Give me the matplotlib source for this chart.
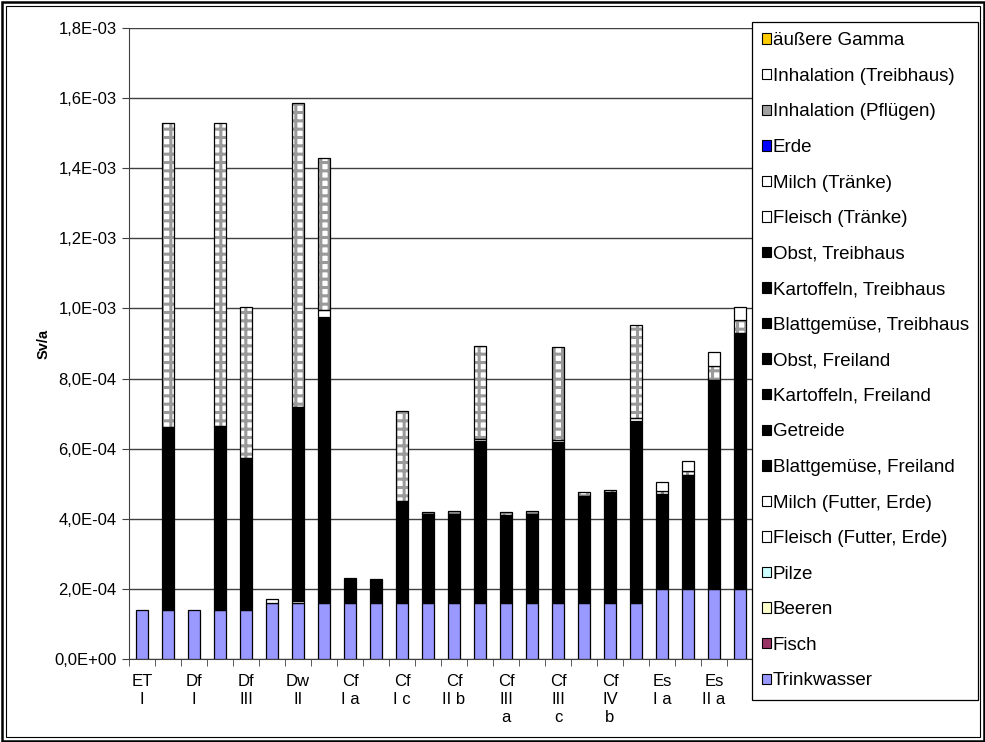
import matplotlib
matplotlib.use("Agg")
import matplotlib.pyplot as plt
from matplotlib.patches import Patch, Rectangle
from matplotlib.ticker import FuncFormatter, FixedLocator, MultipleLocator
import numpy as np

plt.rcParams['font.family'] = ['Liberation Sans', 'DejaVu Sans']
plt.rcParams['hatch.linewidth'] = 2.2

# x-Achse: nur jede zweite Kategorie beschriftet
labels = ["ET\nI", "Df\nI", "Df\nIII", "Dw\nII", "Cf\nI a", "Cf\nI c",
          "Cf\nII b", "Cf\nIII\na", "Cf\nIII\nc", "Cf\nIV\nb", "Es\nI a", "Es\nII a"]
n_bars = 24

# Werte in 1e-4 Sv/a (von unten nach oben gestapelt)
trinkwasser = [1.4, 1.4, 1.4, 1.4, 1.4, 1.6, 1.6, 1.6, 1.6, 1.6, 1.6, 1.6,
               1.6, 1.6, 1.6, 1.6, 1.6, 1.6, 1.6, 1.6, 2.0, 2.0, 2.0, 2.0]
fisch = [0] * 24
beeren = [0] * 24
pilze = [0] * 24
fleisch_futter = [0] * 24
milch_futter = [0, 0, 0, 0, 0, 0, 0.05, 0, 0, 0, 0, 0,
                0, 0, 0, 0, 0, 0, 0, 0, 0, 0, 0, 0]
blatt_frei = [0, 5.23, 0, 5.25, 4.33, 0, 5.55, 8.15, 0.72, 0.67, 2.92, 2.53,
              2.55, 4.62, 2.5, 2.54, 4.6, 3.06, 3.16, 5.2, 2.7, 3.25, 5.93, 7.27]
getreide = [0] * 24
kartoffeln_frei = [0] * 24
obst_frei = [0] * 24
blatt_treib = [0] * 24
kartoffeln_treib = [0] * 24
obst_treib = [0] * 24
fleisch_traenke = [0, 0, 0, 0, 0, 0.12, 0, 0.2, 0, 0, 0, 0,
                   0, 0.06, 0, 0, 0.06, 0, 0, 0.07, 0, 0, 0, 0]
milch_traenke = [0] * 24
erde = [0, 0, 0, 0, 0, 0, 0, 0, 0, 0, 0, 0,
        0, 0, 0, 0, 0, 0, 0, 0, 0, 0, 0.04, 0.04]
inh_pfluegen = [0, 8.67, 0, 8.65, 4.31, 0, 8.67, 4.35, 0, 0, 2.55, 0.06,
                0.08, 2.64, 0.08, 0.08, 2.64, 0.1, 0.06, 2.65, 0.1, 0.12, 0.4, 0.35]
inh_treib = [0, 0, 0, 0, 0, 0, 0, 0, 0, 0, 0, 0,
             0, 0, 0, 0, 0, 0, 0, 0, 0.25, 0.28, 0.38, 0.39]
gamma = [0] * 24

series = [
    ("Trinkwasser", trinkwasser, "#9999FF"),
    ("Fisch", fisch, "#993366"),
    ("Beeren", beeren, "#FFFFCC"),
    ("Pilze", pilze, "#CCFFFF"),
    ("Fleisch (Futter, Erde)", fleisch_futter, "white"),
    ("Milch (Futter, Erde)", milch_futter, "white"),
    ("Blattgemüse, Freiland", blatt_frei, "black"),
    ("Getreide", getreide, "black"),
    ("Kartoffeln, Freiland", kartoffeln_frei, "black"),
    ("Obst, Freiland", obst_frei, "black"),
    ("Blattgemüse, Treibhaus", blatt_treib, "black"),
    ("Kartoffeln, Treibhaus", kartoffeln_treib, "black"),
    ("Obst, Treibhaus", obst_treib, "black"),
    ("Fleisch (Tränke)", fleisch_traenke, "white"),
    ("Milch (Tränke)", milch_traenke, "white"),
    ("Erde", erde, "#0000FF"),
    ("Inhalation (Pflügen)", inh_pfluegen, "pattern"),
    ("Inhalation (Treibhaus)", inh_treib, "white"),
    ("äußere Gamma", gamma, "#FFCC00"),
]

fig = plt.figure(figsize=(9.85, 7.42), dpi=100)
ax = fig.add_axes([129 / 985, 1 - 659 / 742, 624 / 985, 631 / 742])

x = np.arange(n_bars)
width = 0.43
bottom = np.zeros(n_bars)
handles = []
for name, vals, col in series:
    v = np.array(vals) * 1e-4
    m = v > 0  # leere Segmente nicht zeichnen
    if col == "pattern":
        ax.bar(x[m], v[m], width, bottom=bottom[m], color="white", edgecolor="#9A9A9A",
               hatch="++", linewidth=0, zorder=2)
        ax.bar(x[m], v[m], width, bottom=bottom[m], fill=False, edgecolor="black",
               linewidth=0.9, zorder=3)
        handles.append(Patch(facecolor="#A0A0A0", edgecolor="black", linewidth=0.8, label=name))
    else:
        if m.any():
            ax.bar(x[m], v[m], width, bottom=bottom[m], color=col, edgecolor="black",
                   linewidth=0.9, zorder=3)
        handles.append(Patch(facecolor=col, edgecolor="black", linewidth=0.8, label=name))
    bottom += v

ax.set_xlim(-0.5, n_bars - 0.5)
ax.set_ylim(0, 1.8e-3)
ax.yaxis.set_major_locator(MultipleLocator(2e-4))
ax.yaxis.set_major_formatter(FuncFormatter(lambda v, p: f"{v:.1E}".replace(".", ",")))
ax.yaxis.grid(True, color="#404040", linewidth=1)
ax.set_axisbelow(True)

ax.set_xticks(x[::2])
ax.set_xticklabels(labels, fontsize=12, linespacing=1.22, va="top")
ax.xaxis.set_minor_locator(FixedLocator(np.arange(-0.5, n_bars, 1)))
ax.tick_params(axis="x", which="major", length=0, pad=11)
ax.tick_params(axis="x", which="minor", length=5, color="#404040")
ax.tick_params(axis="y", labelsize=12, length=5, color="#404040", pad=4)

for s in ["top", "right"]:
    ax.spines[s].set_visible(False)
ax.spines["left"].set_color("#404040")
ax.spines["bottom"].set_color("#404040")

ax.set_ylabel("Sv/a", fontsize=10.5, fontweight="bold")
ax.yaxis.set_label_coords(-0.126, 0.5)

leg = fig.legend(handles[::-1], [h.get_label() for h in handles[::-1]],
                 loc="upper left", bbox_to_anchor=(752 / 985, 0, 226 / 985, 1 - 22 / 742),
                 mode="expand", borderaxespad=0, fontsize=13.5, labelspacing=0.99,
                 handlelength=0.48, handleheight=0.48, handletextpad=0.08,
                 borderpad=0.55, fancybox=False, framealpha=1, edgecolor="black")
leg.get_frame().set_linewidth(0.9)

# doppelter Rahmen
fig.patches.append(Rectangle((1.5 / 985, 1.5 / 742), 1 - 3 / 985, 1 - 3 / 742,
                             transform=fig.transFigure, fill=False, edgecolor="black", linewidth=1.8))
fig.patches.append(Rectangle((5.5 / 985, 5.5 / 742), 1 - 11 / 985, 1 - 11 / 742,
                             transform=fig.transFigure, fill=False, edgecolor="black", linewidth=0.8))

fig.savefig("out.png", dpi=100)
